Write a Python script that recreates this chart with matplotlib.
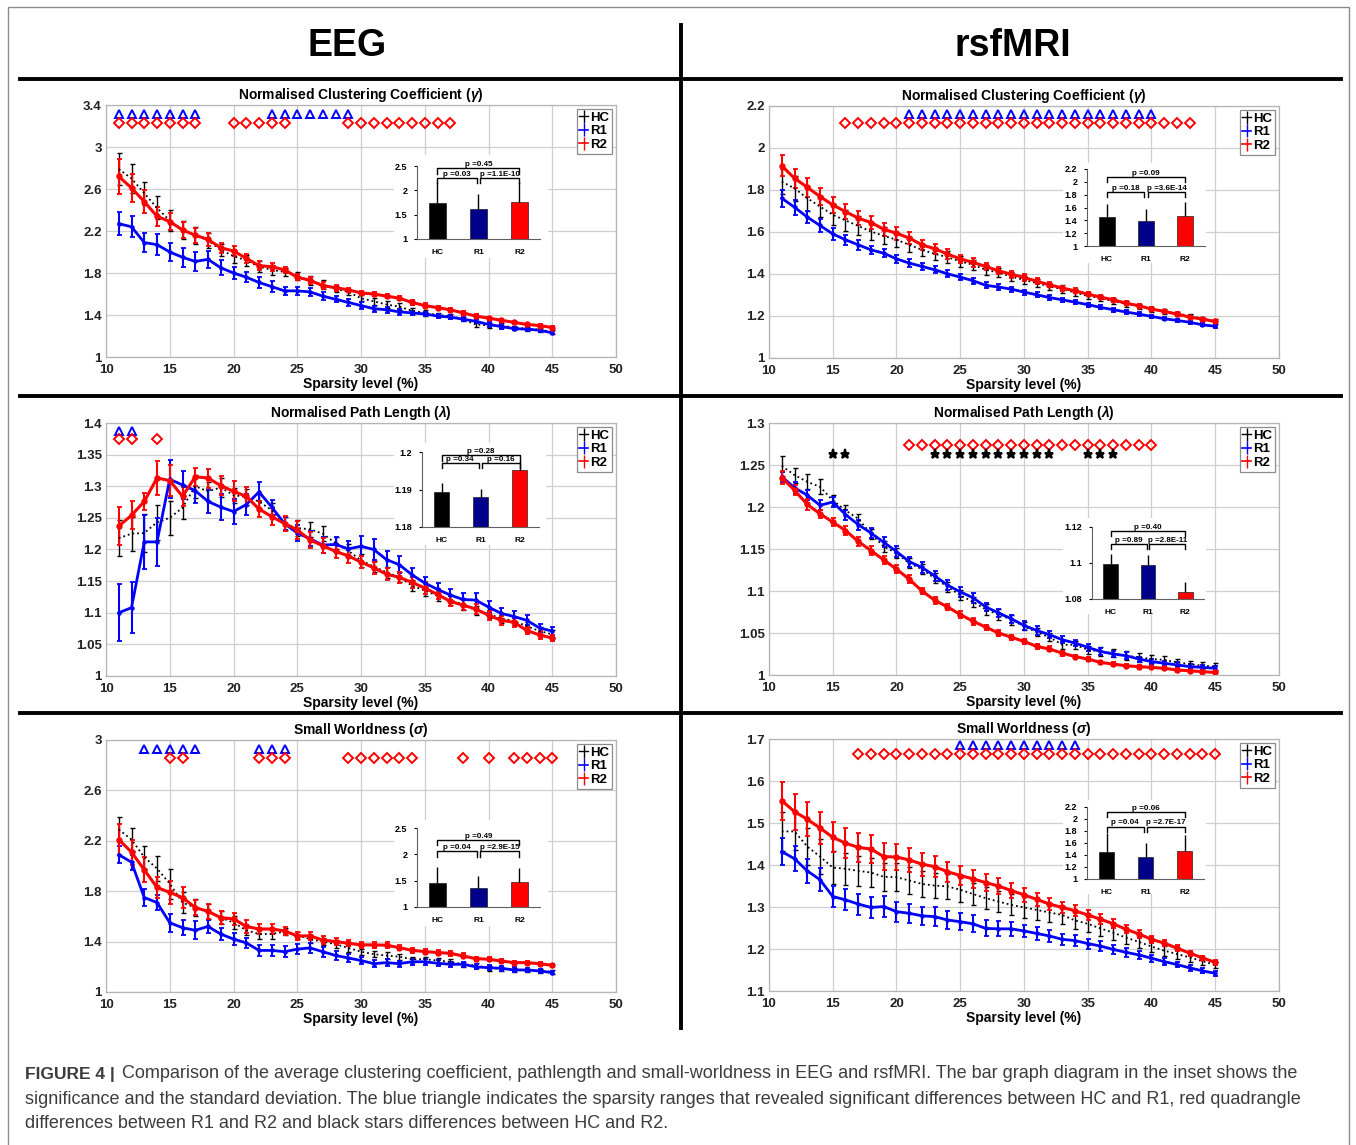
import matplotlib
matplotlib.use('Agg')
import matplotlib.pyplot as plt
from matplotlib.lines import Line2D
from matplotlib.patches import Rectangle
from matplotlib.ticker import FuncFormatter

plt.rcParams['font.family'] = ['Liberation Sans', 'DejaVu Sans']
plt.rcParams['font.weight'] = 'bold'
plt.rcParams['mathtext.fontset'] = 'custom'
plt.rcParams['mathtext.it'] = 'Liberation Sans:italic:bold'
plt.rcParams['mathtext.rm'] = 'Liberation Sans:bold'

W, H = 1356, 1145

# ---- data ----
sparsity = [11, 12, 13, 14, 15, 16, 17, 18, 19, 20, 21, 22, 23, 24, 25, 26, 27, 28,
            29, 30, 31, 32, 33, 34, 35, 36, 37, 38, 39, 40, 41, 42, 43, 44, 45]

# EEG, clustering coefficient
eeg_gamma_hc = [2.79, 2.70, 2.56, 2.42, 2.30, 2.21, 2.16, 2.11, 2.02, 1.96, 1.92, 1.86, 1.83, 1.81, 1.77, 1.73, 1.69, 1.65,
                1.62, 1.56, 1.53, 1.50, 1.48, 1.44, 1.42, 1.40, 1.39, 1.36, 1.31, 1.30, 1.30, 1.28, 1.27, 1.26, 1.24]
eeg_gamma_hc_sd = [0.15, 0.14, 0.11, 0.11, 0.10, 0.09, 0.08, 0.07, 0.06, 0.06, 0.05, 0.05, 0.05, 0.04, 0.04, 0.04, 0.04, 0.03,
                   0.03, 0.03, 0.03, 0.03, 0.03, 0.03, 0.03, 0.02, 0.02, 0.02, 0.02, 0.02, 0.02, 0.02, 0.02, 0.02, 0.02]
eeg_gamma_r1 = [2.27, 2.24, 2.09, 2.07, 2.00, 1.95, 1.91, 1.93, 1.85, 1.80, 1.76, 1.71, 1.67, 1.63, 1.63, 1.62, 1.58, 1.55,
                1.52, 1.49, 1.46, 1.45, 1.43, 1.42, 1.41, 1.39, 1.38, 1.36, 1.34, 1.31, 1.29, 1.27, 1.265, 1.255, 1.23]
eeg_gamma_r1_sd = [0.11, 0.10, 0.09, 0.10, 0.09, 0.09, 0.09, 0.08, 0.07, 0.06, 0.05, 0.05, 0.05, 0.04, 0.04, 0.04, 0.04, 0.03,
                   0.03, 0.03, 0.03, 0.03, 0.03, 0.02, 0.02, 0.02, 0.02, 0.02, 0.02, 0.02, 0.02, 0.015, 0.015, 0.015, 0.015]
eeg_gamma_r2 = [2.72, 2.61, 2.48, 2.34, 2.29, 2.21, 2.16, 2.12, 2.04, 2.01, 1.94, 1.87, 1.86, 1.83, 1.76, 1.73, 1.68, 1.66,
                1.64, 1.61, 1.60, 1.58, 1.56, 1.52, 1.49, 1.47, 1.45, 1.42, 1.39, 1.37, 1.35, 1.33, 1.31, 1.30, 1.28]
eeg_gamma_r2_sd = [0.17, 0.13, 0.11, 0.09, 0.08, 0.08, 0.07, 0.06, 0.05, 0.05, 0.04, 0.04, 0.04, 0.03, 0.03, 0.03, 0.03, 0.03,
                   0.02, 0.02, 0.02, 0.02, 0.02, 0.02, 0.02, 0.02, 0.02, 0.02, 0.02, 0.015, 0.015, 0.015, 0.015, 0.015, 0.015]

# EEG, path length
eeg_lambda_hc = [1.218, 1.225, 1.226, 1.243, 1.250, 1.266, 1.300, 1.292, 1.298, 1.286, 1.283, 1.276, 1.262, 1.241, 1.234,
                 1.232, 1.225, 1.210, 1.198, 1.183, 1.173, 1.164, 1.156, 1.143, 1.135, 1.127, 1.120, 1.113, 1.104, 1.098,
                 1.091, 1.087, 1.079, 1.071, 1.066]
eeg_lambda_hc_sd = [0.028, 0.027, 0.030, 0.028, 0.027, 0.018, 0.018, 0.015, 0.015, 0.012, 0.012, 0.012, 0.012, 0.010, 0.012,
                    0.012, 0.012, 0.010, 0.010, 0.010, 0.009, 0.009, 0.008, 0.008, 0.008, 0.008, 0.008, 0.008, 0.007, 0.007,
                    0.007, 0.007, 0.007, 0.006, 0.006]
eeg_lambda_r1 = [1.100, 1.108, 1.212, 1.212, 1.311, 1.302, 1.293, 1.276, 1.267, 1.260, 1.271, 1.291, 1.267, 1.241, 1.226,
                 1.217, 1.207, 1.208, 1.201, 1.205, 1.200, 1.184, 1.176, 1.160, 1.147, 1.137, 1.128, 1.121, 1.120, 1.109,
                 1.099, 1.094, 1.088, 1.076, 1.071]
eeg_lambda_r1_sd = [0.045, 0.040, 0.043, 0.038, 0.030, 0.022, 0.020, 0.018, 0.020, 0.020, 0.016, 0.015, 0.012, 0.010, 0.012,
                    0.012, 0.012, 0.012, 0.012, 0.016, 0.016, 0.013, 0.013, 0.011, 0.010, 0.010, 0.010, 0.010, 0.012, 0.010,
                    0.009, 0.009, 0.008, 0.006, 0.006]
eeg_lambda_r2 = [1.237, 1.254, 1.276, 1.313, 1.309, 1.284, 1.315, 1.313, 1.301, 1.292, 1.284, 1.264, 1.252, 1.241, 1.231,
                 1.215, 1.206, 1.197, 1.190, 1.180, 1.171, 1.161, 1.156, 1.148, 1.139, 1.129, 1.118, 1.112, 1.106, 1.096,
                 1.088, 1.085, 1.072, 1.065, 1.060]
eeg_lambda_r2_sd = [0.030, 0.022, 0.014, 0.027, 0.025, 0.015, 0.014, 0.015, 0.015, 0.016, 0.015, 0.013, 0.013, 0.012, 0.014,
                    0.013, 0.012, 0.011, 0.011, 0.010, 0.010, 0.010, 0.009, 0.009, 0.009, 0.008, 0.008, 0.008, 0.008, 0.007,
                    0.007, 0.007, 0.006, 0.006, 0.005]

# EEG, small worldness
eeg_sigma_hc = [2.29, 2.21, 2.07, 1.98, 1.86, 1.71, 1.67, 1.64, 1.59, 1.55, 1.49, 1.46, 1.46, 1.48, 1.45, 1.42, 1.40, 1.38,
                1.35, 1.32, 1.30, 1.29, 1.28, 1.26, 1.26, 1.25, 1.24, 1.22, 1.21, 1.19, 1.185, 1.175, 1.17, 1.165, 1.16]
eeg_sigma_hc_sd = [0.10, 0.09, 0.09, 0.10, 0.12, 0.08, 0.07, 0.06, 0.05, 0.05, 0.04, 0.04, 0.04, 0.03, 0.03, 0.03, 0.03, 0.03,
                   0.03, 0.025, 0.025, 0.025, 0.025, 0.02, 0.02, 0.02, 0.02, 0.02, 0.02, 0.02, 0.015, 0.015, 0.015, 0.015, 0.015]
eeg_sigma_r1 = [2.09, 2.03, 1.75, 1.71, 1.55, 1.51, 1.49, 1.52, 1.46, 1.42, 1.39, 1.33, 1.33, 1.32, 1.34, 1.35, 1.32, 1.29,
                1.27, 1.25, 1.225, 1.233, 1.225, 1.24, 1.24, 1.228, 1.22, 1.22, 1.20, 1.193, 1.188, 1.175, 1.175, 1.167, 1.154]
eeg_sigma_r1_sd = [0.07, 0.06, 0.07, 0.06, 0.07, 0.06, 0.07, 0.05, 0.05, 0.05, 0.04, 0.045, 0.045, 0.045, 0.04, 0.04, 0.04,
                   0.035, 0.03, 0.03, 0.03, 0.03, 0.025, 0.025, 0.025, 0.025, 0.02, 0.02, 0.02, 0.02, 0.02, 0.02, 0.015,
                   0.015, 0.015]
eeg_sigma_r2 = [2.21, 2.11, 1.97, 1.83, 1.79, 1.75, 1.67, 1.64, 1.59, 1.58, 1.52, 1.50, 1.50, 1.485, 1.445, 1.445, 1.413,
                1.40, 1.387, 1.374, 1.374, 1.371, 1.352, 1.331, 1.321, 1.313, 1.307, 1.286, 1.265, 1.26, 1.246, 1.233,
                1.233, 1.225, 1.212]
eeg_sigma_r2_sd = [0.12, 0.10, 0.10, 0.08, 0.09, 0.08, 0.06, 0.06, 0.05, 0.05, 0.05, 0.04, 0.04, 0.03, 0.03, 0.03, 0.03, 0.03,
                   0.025, 0.025, 0.025, 0.025, 0.02, 0.02, 0.02, 0.02, 0.02, 0.02, 0.015, 0.015, 0.015, 0.012, 0.012, 0.01,
                   0.01]

# rsfMRI, clustering coefficient
rs_gamma_hc = [1.84, 1.808, 1.761, 1.721, 1.682, 1.655, 1.629, 1.602, 1.582, 1.563, 1.539, 1.515, 1.496, 1.48, 1.46, 1.444,
               1.42, 1.407, 1.388, 1.372, 1.357, 1.341, 1.328, 1.312, 1.296, 1.285, 1.27, 1.258, 1.246, 1.233, 1.222,
               1.211, 1.201, 1.187, 1.174]
rs_gamma_hc_sd = [0.06, 0.06, 0.06, 0.05, 0.05, 0.05, 0.045, 0.04, 0.04, 0.035, 0.035, 0.03, 0.03, 0.03, 0.025, 0.025,
                  0.025, 0.02, 0.02, 0.02, 0.02, 0.018, 0.018, 0.016, 0.015, 0.015, 0.014, 0.013, 0.012, 0.012, 0.011,
                  0.01, 0.01, 0.01, 0.01]
rs_gamma_r1 = [1.761, 1.718, 1.671, 1.631, 1.591, 1.563, 1.539, 1.515, 1.499, 1.472, 1.452, 1.436, 1.42, 1.401, 1.385,
               1.368, 1.346, 1.338, 1.328, 1.314, 1.301, 1.288, 1.277, 1.266, 1.254, 1.241, 1.23, 1.219, 1.209, 1.198,
               1.187, 1.179, 1.17, 1.158, 1.151]
rs_gamma_r1_sd = [0.04, 0.035, 0.03, 0.03, 0.03, 0.025, 0.025, 0.02, 0.02, 0.02, 0.02, 0.018, 0.016, 0.016, 0.015, 0.015,
                  0.014, 0.013, 0.012, 0.012, 0.011, 0.01, 0.01, 0.01, 0.01, 0.009, 0.009, 0.008, 0.008, 0.008, 0.008,
                  0.007, 0.007, 0.007, 0.007]
rs_gamma_r2 = [1.915, 1.856, 1.813, 1.769, 1.729, 1.697, 1.666, 1.645, 1.613, 1.594, 1.571, 1.539, 1.52, 1.495, 1.472,
               1.455, 1.436, 1.415, 1.399, 1.384, 1.365, 1.349, 1.333, 1.32, 1.304, 1.29, 1.277, 1.261, 1.249, 1.233,
               1.222, 1.209, 1.195, 1.185, 1.174]
rs_gamma_r2_sd = [0.05, 0.045, 0.045, 0.04, 0.04, 0.035, 0.035, 0.03, 0.03, 0.03, 0.03, 0.025, 0.025, 0.022, 0.02, 0.02,
                  0.018, 0.017, 0.016, 0.015, 0.014, 0.013, 0.012, 0.012, 0.011, 0.01, 0.01, 0.009, 0.009, 0.008, 0.008,
                  0.008, 0.007, 0.007, 0.007]

# rsfMRI, path length
rs_lambda_hc = [1.249, 1.238, 1.23, 1.224, 1.208, 1.196, 1.186, 1.168, 1.153, 1.145, 1.133, 1.126, 1.115, 1.105, 1.095,
                1.087, 1.078, 1.072, 1.066, 1.058, 1.051, 1.045, 1.036, 1.036, 1.03, 1.028, 1.026, 1.023, 1.021, 1.019,
                1.018, 1.015, 1.013, 1.011, 1.01]
rs_lambda_hc_sd = [0.012, 0.009, 0.009, 0.009, 0.006, 0.006, 0.006, 0.006, 0.006, 0.006, 0.006, 0.006, 0.006, 0.006,
                   0.006, 0.006, 0.006, 0.006, 0.006, 0.005, 0.005, 0.005, 0.005, 0.005, 0.005, 0.005, 0.005, 0.005,
                   0.005, 0.005, 0.005, 0.004, 0.004, 0.004, 0.004]
rs_lambda_r1 = [1.236, 1.223, 1.214, 1.202, 1.206, 1.191, 1.179, 1.169, 1.158, 1.147, 1.135, 1.128, 1.118, 1.107, 1.099,
                1.092, 1.081, 1.074, 1.067, 1.059, 1.053, 1.048, 1.042, 1.038, 1.033, 1.028, 1.025, 1.023, 1.019, 1.016,
                1.014, 1.012, 1.01, 1.009, 1.008]
rs_lambda_r1_sd = [0.006, 0.007, 0.006, 0.006, 0.006, 0.006, 0.006, 0.006, 0.006, 0.006, 0.006, 0.006, 0.006, 0.006,
                   0.006, 0.006, 0.005, 0.005, 0.005, 0.005, 0.005, 0.004, 0.004, 0.004, 0.004, 0.004, 0.004, 0.004,
                   0.003, 0.003, 0.003, 0.003, 0.003, 0.003, 0.003]
rs_lambda_r2 = [1.235, 1.22, 1.203, 1.192, 1.182, 1.172, 1.159, 1.148, 1.137, 1.126, 1.114, 1.10, 1.089, 1.081, 1.072,
                1.064, 1.057, 1.05, 1.045, 1.04, 1.034, 1.031, 1.026, 1.022, 1.019, 1.015, 1.013, 1.011, 1.01, 1.009,
                1.008, 1.006, 1.005, 1.004, 1.003]
rs_lambda_r2_sd = [0.008, 0.006, 0.006, 0.005, 0.005, 0.005, 0.005, 0.005, 0.005, 0.005, 0.005, 0.004, 0.004, 0.004,
                   0.004, 0.004, 0.003, 0.003, 0.003, 0.003, 0.003, 0.003, 0.003, 0.002, 0.002, 0.002, 0.002, 0.002,
                   0.002, 0.002, 0.002, 0.002, 0.002, 0.002, 0.002]

# rsfMRI, small worldness
rs_sigma_hc = [1.48, 1.48, 1.444, 1.42, 1.394, 1.391, 1.386, 1.382, 1.372, 1.371, 1.363, 1.355, 1.351, 1.349, 1.341, 1.331,
               1.321, 1.313, 1.305, 1.299, 1.293, 1.287, 1.281, 1.268, 1.26, 1.249, 1.239, 1.227, 1.217, 1.206, 1.196,
               1.188, 1.18, 1.171, 1.162]
rs_sigma_hc_sd = [0.047, 0.045, 0.045, 0.042, 0.04, 0.038, 0.036, 0.035, 0.033, 0.033, 0.032, 0.03, 0.03, 0.029, 0.028,
                  0.027, 0.026, 0.026, 0.025, 0.025, 0.024, 0.023, 0.022, 0.021, 0.02, 0.019, 0.018, 0.016, 0.015, 0.013,
                  0.012, 0.011, 0.01, 0.009, 0.008]
rs_sigma_r1 = [1.432, 1.415, 1.386, 1.365, 1.325, 1.317, 1.307, 1.299, 1.301, 1.289, 1.285, 1.279, 1.277, 1.269, 1.265,
               1.26, 1.249, 1.248, 1.248, 1.243, 1.237, 1.231, 1.223, 1.22, 1.213, 1.207, 1.199, 1.192, 1.186, 1.178,
               1.17, 1.163, 1.155, 1.148, 1.142]
rs_sigma_r1_sd = [0.033, 0.03, 0.028, 0.028, 0.026, 0.025, 0.025, 0.025, 0.025, 0.024, 0.023, 0.022, 0.022, 0.021, 0.02,
                  0.02, 0.019, 0.018, 0.017, 0.015, 0.015, 0.014, 0.013, 0.013, 0.012, 0.011, 0.01, 0.01, 0.009, 0.008,
                  0.008, 0.007, 0.007, 0.006, 0.006]
rs_sigma_r2 = [1.553, 1.527, 1.509, 1.488, 1.466, 1.452, 1.442, 1.438, 1.42, 1.419, 1.412, 1.402, 1.396, 1.384, 1.375,
               1.367, 1.358, 1.35, 1.339, 1.329, 1.318, 1.307, 1.299, 1.291, 1.281, 1.271, 1.26, 1.247, 1.236, 1.223,
               1.214, 1.202, 1.19, 1.179, 1.168]
rs_sigma_r2_sd = [0.045, 0.043, 0.04, 0.038, 0.036, 0.035, 0.034, 0.033, 0.032, 0.03, 0.029, 0.027, 0.025, 0.024, 0.023,
                  0.022, 0.021, 0.02, 0.018, 0.017, 0.016, 0.015, 0.014, 0.013, 0.012, 0.012, 0.011, 0.01, 0.009, 0.008,
                  0.008, 0.007, 0.006, 0.005, 0.005]

# sparsity levels with significant differences
eeg_gamma_tri = [11, 12, 13, 14, 15, 16, 17, 23, 24, 25, 26, 27, 28, 29]
eeg_gamma_dia = [11, 12, 13, 14, 15, 16, 17, 20, 21, 22, 23, 24, 29, 30, 31, 32, 33, 34, 35, 36, 37]
eeg_lambda_tri = [11, 12]
eeg_lambda_dia = [11, 12, 14]
eeg_sigma_tri = [13, 14, 15, 16, 17, 22, 23, 24]
eeg_sigma_dia = [15, 16, 22, 23, 24, 29, 30, 31, 32, 33, 34, 38, 40, 42, 43, 44, 45]
rs_gamma_tri = [21, 22, 23, 24, 25, 26, 27, 28, 29, 30, 31, 32, 33, 34, 35, 36, 37, 38, 39, 40]
rs_gamma_dia = [16, 17, 18, 19, 20, 21, 22, 23, 24, 25, 26, 27, 28, 29, 30, 31, 32, 33, 34, 35, 36, 37, 38, 39, 40,
                41, 42, 43]
rs_lambda_star = [15, 16, 23, 24, 25, 26, 27, 28, 29, 30, 31, 32, 35, 36, 37]
rs_lambda_dia = [21, 22, 23, 24, 25, 26, 27, 28, 29, 30, 31, 32, 33, 34, 35, 36, 37, 38, 39, 40]
rs_sigma_tri = [25, 26, 27, 28, 29, 30, 31, 32, 33, 34]
rs_sigma_dia = [17, 18, 19, 20, 21, 22, 23, 24, 25, 26, 27, 28, 29, 30, 31, 32, 33, 34, 35, 36, 37, 38, 39, 40, 41,
                42, 43, 44, 45]

# inset bar graphs (mean, sd) for HC, R1, R2 and p values
groups = ['HC', 'R1', 'R2']
eeg_gamma_bar = [1.745, 1.616, 1.77]
eeg_gamma_bar_sd = [0.43, 0.31, 0.40]
eeg_gamma_p = ['p =0.03', 'p =1.1E-10', 'p =0.45']
eeg_lambda_bar = [1.1893, 1.1880, 1.1951]
eeg_lambda_bar_sd = [0.0024, 0.0022, 0.0024]
eeg_lambda_p = ['p =0.34', 'p =0.16', 'p =0.28']
eeg_sigma_bar = [1.456, 1.361, 1.475]
eeg_sigma_bar_sd = [0.31, 0.23, 0.27]
eeg_sigma_p = ['p =0.04', 'p =2.9E-15', 'p =0.49']
rs_gamma_bar = [1.449, 1.386, 1.47]
rs_gamma_bar_sd = [0.21, 0.19, 0.22]
rs_gamma_p = ['p =0.18', 'p =3.6E-14', 'p =0.09']
rs_lambda_bar = [1.0995, 1.0991, 1.0839]
rs_lambda_bar_sd = [0.0053, 0.0053, 0.0053]
rs_lambda_p = ['p =0.89', 'p =2.8E-11', 'p =0.40']
rs_sigma_bar = [1.455, 1.36, 1.472]
rs_sigma_bar_sd = [0.32, 0.24, 0.26]
rs_sigma_p = ['p =0.04', 'p =2.7E-17', 'p =0.06']

fig = plt.figure(figsize=(W / 100, H / 100), dpi=100)


def px_box(x0, y0, x1, y1):
    # pixel box (top-left origin) -> figure fraction rect
    return [x0 / W, 1 - y1 / H, (x1 - x0) / W, (y1 - y0) / H]


def draw_panel(box, title, sym, hc, hc_sd, r1, r1_sd, r2, r2_sd, ylim, yticks, marks):
    ax = fig.add_axes(px_box(*box))
    ax.errorbar(sparsity, hc, yerr=hc_sd, color='black', ls=':', lw=1.3, elinewidth=1.0, capsize=1.8, capthick=1.0)
    ax.errorbar(sparsity, r1, yerr=r1_sd, color='#0000ff', lw=2.0, elinewidth=1.5, capsize=1.8,
                capthick=1.3, marker='o', ms=2.2)
    ax.errorbar(sparsity, r2, yerr=r2_sd, color='#ff0000', lw=2.2, elinewidth=1.5, capsize=1.8,
                capthick=1.3, marker='o', ms=3.6)
    # legend keys drawn as plain error-bar symbols, like the original
    keys = [ax.errorbar([], [], yerr=[], color=c, lw=lw, elinewidth=1.0, capsize=2, capthick=1.0)
            for c, lw in [('black', 1.0), ('#0000ff', 1.2), ('#ff0000', 1.2)]]
    # significance markers
    for xs, y, m, c, face in marks:
        size = {'^': 5.6, 'D': 4.8, '*': 6.8}[m]
        ax.plot(xs, [y] * len(xs), ls='none', marker=m, ms=size, mew=1.4, mec=c, mfc=face, clip_on=False)
    ax.set_xlim(10, 50)
    ax.set_ylim(*ylim)
    ax.set_xticks([10, 15, 20, 25, 30, 35, 40, 45, 50])
    ax.set_yticks(yticks)
    ax.yaxis.set_major_formatter(FuncFormatter(lambda v, p: '%g' % round(v, 3)))
    ax.grid(True, color='#cfcfcf', lw=0.9)
    ax.set_axisbelow(True)
    ax.tick_params(length=0, labelsize=9.5, colors='#222222')
    ax.tick_params(axis='x', pad=5)
    ax.tick_params(axis='y', pad=3)
    for s in ax.spines.values():
        s.set_color('#b5b5b5')
        s.set_linewidth(0.9)
    ax.set_title(title + ' $\\mathit{(\\' + sym + ')}$', fontsize=10, fontweight='bold', pad=4)
    ax.set_xlabel('Sparsity level (%)', fontsize=10, fontweight='bold', labelpad=1)
    leg = ax.legend(keys, ['HC', 'R1', 'R2'], loc='upper right', frameon=True, fancybox=False,
                    edgecolor='#8c8c8c', framealpha=1, prop=dict(weight='bold', size=9.5), handlelength=0.7,
                    handletextpad=0.15, borderpad=0.2, labelspacing=0.1, borderaxespad=0.3)
    leg.get_frame().set_linewidth(0.9)
    return ax


def draw_inset(bg_box, box, vals, sds, ylim, yticks, lower, upper, pvals):
    bg = fig.add_axes(px_box(*bg_box))
    bg.set_facecolor('white')
    bg.set_xticks([])
    bg.set_yticks([])
    for s in bg.spines.values():
        s.set_visible(False)
    ia = fig.add_axes(px_box(*box))
    ia.patch.set_alpha(0)
    pos = [1, 2, 3]
    ia.bar(pos, vals, width=0.4, color=['black', '#00008b', '#ff0000'], edgecolor='black', lw=0.4)
    ia.errorbar(pos, vals, yerr=[[0, 0, 0], sds], fmt='none', ecolor='black', elinewidth=1.0, capsize=0)
    ia.set_xlim(0.5, 3.5)
    ia.set_ylim(*ylim)
    ia.set_yticks(yticks)
    ia.yaxis.set_major_formatter(FuncFormatter(lambda v, p: '%g' % round(v, 3)))
    ia.set_xticks(pos)
    ia.set_xticklabels(groups)
    ia.tick_params(axis='y', length=2, labelsize=6.5, pad=5)
    ia.tick_params(axis='x', length=0, labelsize=6, pad=7)
    for s in ['top', 'right']:
        ia.spines[s].set_visible(False)
    for s in ['left', 'bottom']:
        ia.spines[s].set_color('#606060')
        ia.spines[s].set_linewidth(0.8)
    leg = 0.07 * (ylim[1] - ylim[0])
    ia.plot([1, 1, 1.96, 1.96], [lower - leg, lower, lower, lower - leg], color='black', lw=1, clip_on=False)
    ia.plot([2.04, 2.04, 3, 3], [lower - leg, lower, lower, lower - leg], color='black', lw=1, clip_on=False)
    ia.plot([1, 1, 3, 3], [upper - leg, upper, upper, upper - leg], color='black', lw=1, clip_on=False)
    ia.text(1.48, lower, pvals[0], ha='center', va='bottom', fontsize=5.8, clip_on=False)
    ia.text(2.52, lower, pvals[1], ha='center', va='bottom', fontsize=5.8, clip_on=False)
    ia.text(2.0, upper, pvals[2], ha='center', va='bottom', fontsize=5.8, clip_on=False)


tri_b = ('^', '#0000ff', 'none')
dia_r = ('D', '#ff0000', 'none')
star_k = ('*', 'black', 'black')

# ---- EEG column ----
draw_panel((106, 105, 616, 357), 'Normalised Clustering Coefficient', 'gamma',
           eeg_gamma_hc, eeg_gamma_hc_sd, eeg_gamma_r1, eeg_gamma_r1_sd, eeg_gamma_r2, eeg_gamma_r2_sd,
           (1, 3.4), [1, 1.4, 1.8, 2.2, 2.6, 3, 3.4],
           [(eeg_gamma_tri, 3.31) + tri_b, (eeg_gamma_dia, 3.225) + dia_r])
draw_inset((394, 155, 548, 258), (417, 166, 540, 239), eeg_gamma_bar, eeg_gamma_bar_sd,
           (1, 2.5), [1, 1.5, 2, 2.5], 2.25, 2.45, eeg_gamma_p)

draw_panel((106, 423, 616, 676), 'Normalised Path Length', 'lambda',
           eeg_lambda_hc, eeg_lambda_hc_sd, eeg_lambda_r1, eeg_lambda_r1_sd, eeg_lambda_r2, eeg_lambda_r2_sd,
           (1, 1.4), [1, 1.05, 1.1, 1.15, 1.2, 1.25, 1.3, 1.35, 1.4],
           [(eeg_lambda_tri, 1.388) + tri_b, (eeg_lambda_dia, 1.375) + dia_r])
draw_inset((394, 443, 546, 545), (422, 452, 539, 527), eeg_lambda_bar, eeg_lambda_bar_sd,
           (1.18, 1.2), [1.18, 1.19, 1.2], 1.1971, 1.1991, eeg_lambda_p)

draw_panel((106, 740, 616, 992), 'Small Worldness', 'sigma',
           eeg_sigma_hc, eeg_sigma_hc_sd, eeg_sigma_r1, eeg_sigma_r1_sd, eeg_sigma_r2, eeg_sigma_r2_sd,
           (1, 3), [1, 1.4, 1.8, 2.2, 2.6, 3],
           [(eeg_sigma_tri, 2.93) + tri_b, (eeg_sigma_dia, 2.86) + dia_r])
draw_inset((394, 820, 548, 926), (417, 828, 540, 907), eeg_sigma_bar, eeg_sigma_bar_sd,
           (1, 2.5), [1, 1.5, 2, 2.5], 2.06, 2.28, eeg_sigma_p)

# ---- rsfMRI column ----
draw_panel((769, 106, 1279, 358), 'Normalised Clustering Coefficient', 'gamma',
           rs_gamma_hc, rs_gamma_hc_sd, rs_gamma_r1, rs_gamma_r1_sd, rs_gamma_r2, rs_gamma_r2_sd,
           (1, 2.2), [1, 1.2, 1.4, 1.6, 1.8, 2, 2.2],
           [(rs_gamma_tri, 2.16) + tri_b, (rs_gamma_dia, 2.118) + dia_r])
draw_inset((1063, 163, 1206, 263), (1087, 169, 1205, 246), rs_gamma_bar, rs_gamma_bar_sd,
           (1, 2.2), [1, 1.2, 1.4, 1.6, 1.8, 2, 2.2], 1.84, 2.075, rs_gamma_p)

draw_panel((769, 423, 1279, 675), 'Normalised Path Length', 'lambda',
           rs_lambda_hc, rs_lambda_hc_sd, rs_lambda_r1, rs_lambda_r1_sd, rs_lambda_r2, rs_lambda_r2_sd,
           (1, 1.3), [1, 1.05, 1.1, 1.15, 1.2, 1.25, 1.3],
           [(rs_lambda_dia, 1.274) + dia_r, (rs_lambda_star, 1.2635) + star_k])
draw_inset((1063, 518, 1206, 614), (1092, 527, 1204, 599), rs_lambda_bar, rs_lambda_bar_sd,
           (1.08, 1.12), [1.08, 1.1, 1.12], 1.1108, 1.1178, rs_lambda_p)

draw_panel((769, 739, 1279, 991), 'Small Worldness', 'sigma',
           rs_sigma_hc, rs_sigma_hc_sd, rs_sigma_r1, rs_sigma_r1_sd, rs_sigma_r2, rs_sigma_r2_sd,
           (1.1, 1.7), [1.1, 1.2, 1.3, 1.4, 1.5, 1.6, 1.7],
           [(rs_sigma_tri, 1.686) + tri_b, (rs_sigma_dia, 1.664) + dia_r])
draw_inset((1063, 800, 1206, 894), (1087, 807, 1204, 879), rs_sigma_bar, rs_sigma_bar_sd,
           (1, 2.2), [1, 1.2, 1.4, 1.6, 1.8, 2, 2.2], 1.875, 2.11, rs_sigma_p)

# ---- headers, dividers, frame ----
fig.text(347 / W, 1 - 46 / H, 'EEG', ha='center', va='center', fontsize=27, fontweight='bold')
fig.text(1013 / W, 1 - 46 / H, 'rsfMRI', ha='center', va='center', fontsize=27, fontweight='bold')

for yy in [79, 396, 713]:
    fig.add_artist(Line2D([20 / W, 1341 / W], [1 - yy / H, 1 - yy / H], color='black', lw=2.8))
fig.add_artist(Line2D([681 / W, 681 / W], [1 - 25 / H, 1 - 1028 / H], color='black', lw=2.8))
fig.add_artist(Rectangle((8 / W, -0.01), 1341 / W, 1.01 - 7 / H, fill=False, edgecolor='#8c8c8c', lw=1.0))

# ---- caption ----
cap_col = '#3c3c3c'
fig.text(25 / W, 1 - 1074 / H, 'FIGURE 4 |', ha='left', va='center', fontsize=12.5, fontweight='bold', color=cap_col)
fig.text(122 / W, 1 - 1074 / H,
         'Comparison of the average clustering coefficient, pathlength and small-worldness in EEG and rsfMRI. '
         'The bar graph diagram in the inset shows the',
         ha='left', va='center', fontsize=13, fontweight='normal', color=cap_col)
fig.text(25 / W, 1 - 1099 / H,
         'significance and the standard deviation. The blue triangle indicates the sparsity ranges that revealed '
         'significant differences between HC and R1, red quadrangle',
         ha='left', va='center', fontsize=13, fontweight='normal', color=cap_col)
fig.text(25 / W, 1 - 1123 / H, 'differences between R1 and R2 and black stars differences between HC and R2.',
         ha='left', va='center', fontsize=13, fontweight='normal', color=cap_col)

fig.savefig('out.png', dpi=100, facecolor='white')
